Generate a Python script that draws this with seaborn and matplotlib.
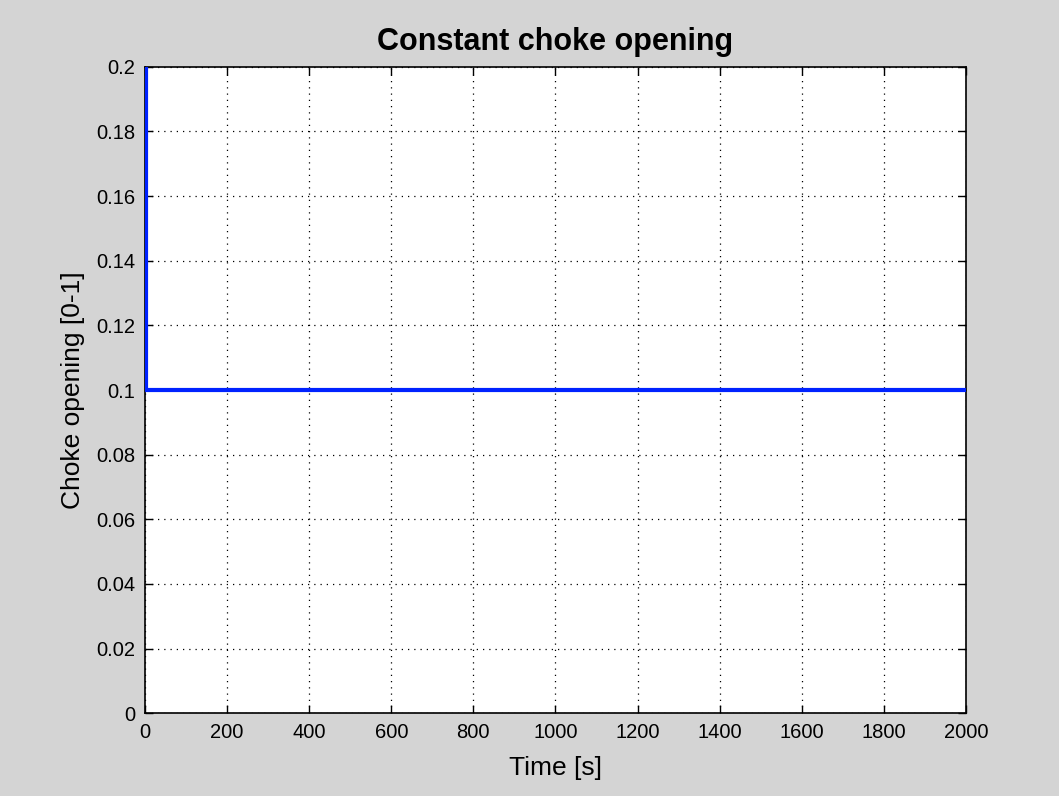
import matplotlib
matplotlib.use("Agg")
import matplotlib.pyplot as plt
import seaborn as sns
import pandas as pd

# Choke opening signal: brief initial value, then held constant
time_s = [2, 2, 2000]
choke_opening = [0.2, 0.1, 0.1]

x_ticks = [0, 200, 400, 600, 800, 1000, 1200, 1400, 1600, 1800, 2000]
y_ticks = [0, 0.02, 0.04, 0.06, 0.08, 0.1, 0.12, 0.14, 0.16, 0.18, 0.2]
y_tick_labels = ["0", "0.02", "0.04", "0.06", "0.08", "0.1", "0.12", "0.14", "0.16", "0.18", "0.2"]

sns.set_style("ticks")
plt.rcParams["font.family"] = ["Liberation Sans", "DejaVu Sans"]
plt.rcParams["text.color"] = "black"
plt.rcParams["axes.labelcolor"] = "black"

df = pd.DataFrame({"Time [s]": time_s, "Choke opening [0-1]": choke_opening})

fig = plt.figure(figsize=(10.59, 7.96), dpi=100, facecolor="#d4d4d4")
ax = fig.add_axes([0.137, 0.104, 0.775, 0.812])
ax.set_facecolor("white")

sns.lineplot(data=df, x="Time [s]", y="Choke opening [0-1]", sort=False,
             estimator=None, color="#0022ff", linewidth=3.0, ax=ax, zorder=3)

ax.set_xlim(0, 2000)
ax.set_ylim(0, 0.2)
ax.set_xticks(x_ticks)
ax.set_yticks(y_ticks)
ax.set_yticklabels(y_tick_labels)
ax.grid(True, color="black", linestyle=(0, (1, 4)), linewidth=0.9)
ax.tick_params(direction="in", length=6, width=1, labelsize=14.5, colors="black",
               top=True, right=True, pad=7)
for s in ax.spines.values():
    s.set_visible(True)
    s.set_color("black")
    s.set_linewidth(1.2)

ax.set_xlabel("Time [s]", fontsize=19, labelpad=10)
ax.set_ylabel("Choke opening [0-1]", fontsize=19, labelpad=8)
ax.set_title("Constant choke opening", fontsize=22, fontweight="bold", pad=12)

fig.savefig("out.png", dpi=100, facecolor=fig.get_facecolor())
